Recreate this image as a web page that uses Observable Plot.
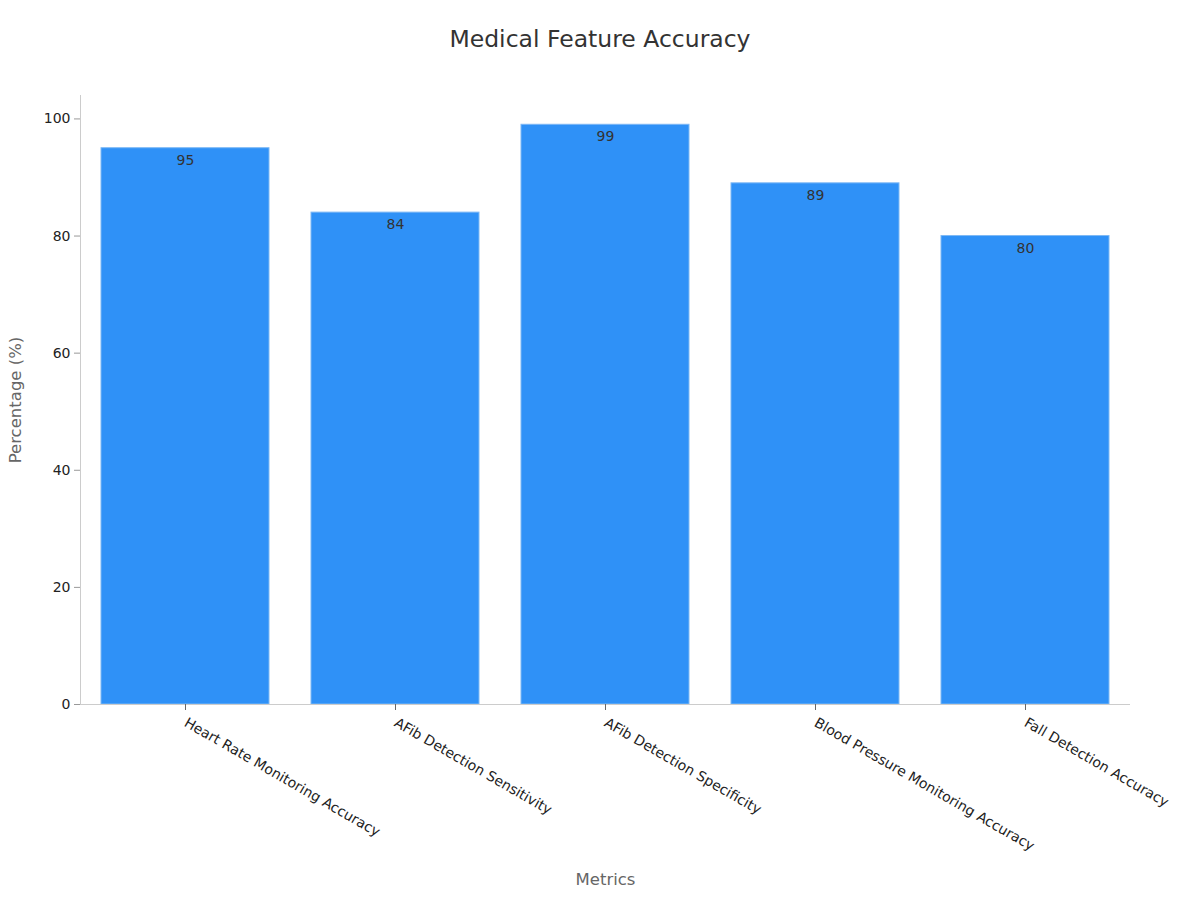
<!DOCTYPE html>
<html>
<head>
<meta charset="utf-8">
<script src="https://cdn.jsdelivr.net/npm/d3@7"></script>
<script src="https://cdn.jsdelivr.net/npm/@observablehq/plot@0.6"></script>
<style>
  body { margin: 0; background: #fff; font-family: "DejaVu Sans", sans-serif; }
  #title { width: 1200px; height: 80px; display: flex; align-items: center; justify-content: center; font-size: 23.5px; color: #333; padding-bottom: 2px; box-sizing: border-box; }
</style>
</head>
<body>
<div id="title">Medical Feature Accuracy</div>
<div id="chart"></div>
<script>
const categories = ["Heart Rate Monitoring Accuracy", "AFib Detection Sensitivity", "AFib Detection Specificity", "Blood Pressure Monitoring Accuracy", "Fall Detection Accuracy"];
const values = [95, 84, 99, 89, 80];
const yTicks = [0, 20, 40, 60, 80, 100];
const yMax = 104;

const data = categories.map((c, i) => ({category: c, value: values[i]}));
const marginLeft = 80;

const chart = Plot.plot({
  width: 1200,
  height: 820,
  marginLeft: marginLeft,
  marginRight: 70,
  marginTop: 15,
  marginBottom: 196,
  style: {fontFamily: "DejaVu Sans, sans-serif", fontSize: "14px", color: "#222", background: "#fff"},
  x: {domain: categories, paddingInner: 0.2, paddingOuter: 0.1},
  y: {domain: [0, yMax]},
  marks: [
    Plot.barY(data, {x: "category", y: "value", fill: "#2F91F7", stroke: "#7DB8F5", strokeWidth: 1}),
    Plot.text(data, {x: "category", y: "value", text: d => String(d.value), dy: 12, fill: "#333", fontSize: 14}),
    Plot.ruleY([0], {stroke: "#ccc", strokeWidth: 1}),
    Plot.axisY({ticks: yTicks, stroke: "#999", tickSize: 6, tickPadding: 4, label: null, fontSize: 14, fill: "#222"}),
    Plot.axisX({tickRotate: 30, tickSize: 6, tickPadding: 11, label: null, fontSize: 14, stroke: "#666", fill: "#222"}),
    Plot.text(["Percentage (%)"], {frameAnchor: "left", textAnchor: "middle", dx: -65, rotate: -90, fill: "#666", fontSize: 16.5}),
    Plot.text(["Metrics"], {frameAnchor: "bottom", dy: 180, fill: "#666", fontSize: 16.5})
  ]
});
// left axis line drawn from the y scale
const ys = chart.scale("y");
d3.select(chart).append("line")
  .attr("x1", marginLeft + 0.5).attr("x2", marginLeft + 0.5)
  .attr("y1", ys.apply(yMax)).attr("y2", ys.apply(0))
  .attr("stroke", "#ccc").attr("stroke-width", 1);
document.getElementById("chart").appendChild(chart);
</script>
</body>
</html>
